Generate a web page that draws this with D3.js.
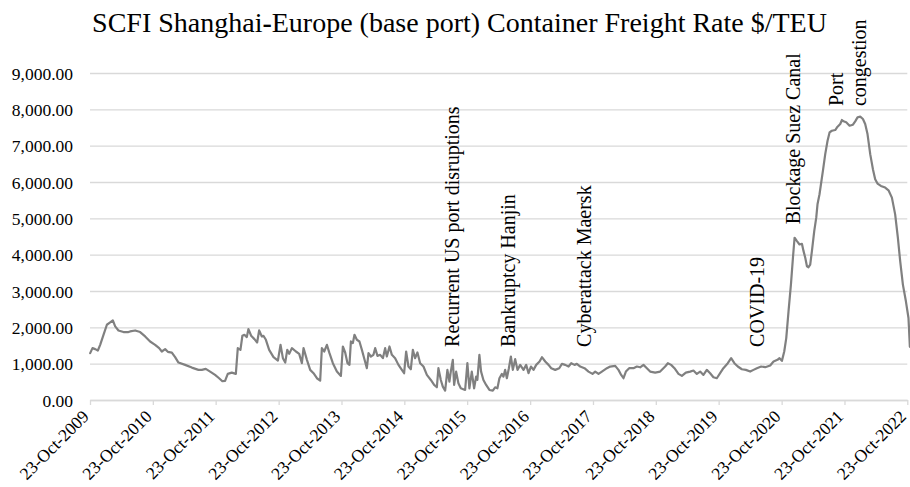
<!DOCTYPE html>
<html>
<head>
<meta charset="utf-8">
<script src="https://cdn.jsdelivr.net/npm/d3@7"></script>
<style>
  html, body { margin: 0; padding: 0; background: #ffffff; }
  svg { display: block; }
  svg text { font-family: "Liberation Serif", "Times New Roman", Times, serif; }
</style>
</head>
<body>
<svg id="chart" width="910" height="487"></svg>
<script>
// ---------------- DATA ----------------
const chartTitle = "SCFI Shanghai-Europe (base port) Container Freight Rate $/TEU";

const xTickLabels = ["23-Oct-2009","23-Oct-2010","23-Oct-2011","23-Oct-2012","23-Oct-2013","23-Oct-2014",
  "23-Oct-2015","23-Oct-2016","23-Oct-2017","23-Oct-2018","23-Oct-2019","23-Oct-2020","23-Oct-2021","23-Oct-2022"];

const yTickValues = [0, 1000, 2000, 3000, 4000, 5000, 6000, 7000, 8000, 9000];

// [date as decimal year, rate in $/TEU]
const freightRate = [
  [2009.811,1290],[2009.848,1427],[2009.891,1400],[2009.933,1362],[2009.970,1519],[2010.023,1795],
  [2010.077,2071],[2010.129,2135],[2010.172,2190],[2010.209,2025],[2010.261,1914],[2010.341,1870],
  [2010.420,1870],[2010.447,1888],[2010.527,1914],[2010.606,1870],[2010.686,1749],[2010.765,1610],
  [2010.845,1519],[2010.909,1427],[2010.951,1335],[2011.004,1400],[2011.047,1326],[2011.111,1306],
  [2011.163,1179],[2011.216,1030],[2011.322,967],[2011.429,892],[2011.534,829],[2011.588,829],
  [2011.651,856],[2011.720,782],[2011.799,690],[2011.863,599],[2011.915,516],[2011.958,525],
  [2012.001,718],[2012.065,754],[2012.129,718],[2012.160,1427],[2012.202,1381],[2012.233,1768],
  [2012.265,1795],[2012.303,1731],[2012.329,1952],[2012.372,1768],[2012.424,1676],[2012.467,1583],
  [2012.499,1914],[2012.542,1749],[2012.567,1768],[2012.606,1657],[2012.658,1381],[2012.727,1179],
  [2012.797,1086],[2012.838,1519],[2012.876,1151],[2012.913,1030],[2012.945,1381],[2012.976,1270],
  [2013.019,1427],[2013.083,1335],[2013.135,1270],[2013.178,1013],[2013.204,1427],[2013.258,1105],
  [2013.310,829],[2013.363,737],[2013.417,599],[2013.469,534],[2013.496,1427],[2013.533,1335],
  [2013.576,1519],[2013.617,1289],[2013.671,1013],[2013.735,782],[2013.799,663],[2013.830,1473],
  [2013.867,1307],[2013.904,1013],[2013.935,967],[2013.958,1611],[2013.989,1565],[2014.015,1795],
  [2014.053,1657],[2014.094,1611],[2014.133,1381],[2014.169,1151],[2014.212,875],[2014.238,1289],
  [2014.276,1197],[2014.317,1243],[2014.344,1427],[2014.381,1215],[2014.424,1243],[2014.467,1151],
  [2014.503,1427],[2014.530,1197],[2014.572,1473],[2014.610,1243],[2014.662,1151],[2014.715,967],
  [2014.769,829],[2014.805,737],[2014.837,1335],[2014.874,921],[2014.912,847],[2014.944,1381],
  [2014.980,1151],[2015.017,1307],[2015.060,1013],[2015.113,921],[2015.167,690],[2015.230,552],
  [2015.283,414],[2015.326,350],[2015.351,875],[2015.389,552],[2015.421,368],[2015.458,258],
  [2015.494,829],[2015.526,506],[2015.548,782],[2015.580,1105],[2015.601,414],[2015.633,782],
  [2015.669,460],[2015.707,322],[2015.776,276],[2015.812,1013],[2015.844,322],[2015.882,782],
  [2015.919,322],[2015.951,644],[2015.971,552],[2016.003,1243],[2016.030,782],[2016.067,552],
  [2016.110,414],[2016.162,276],[2016.216,258],[2016.253,350],[2016.289,322],[2016.321,599],
  [2016.359,718],[2016.385,644],[2016.412,829],[2016.439,599],[2016.471,875],[2016.503,1197],
  [2016.534,829],[2016.571,1124],[2016.608,829],[2016.651,967],[2016.703,829],[2016.746,967],
  [2016.783,737],[2016.821,921],[2016.862,829],[2016.905,967],[2016.958,1059],[2016.996,1179],
  [2017.048,1059],[2017.101,967],[2017.144,875],[2017.207,829],[2017.271,875],[2017.314,994],
  [2017.366,967],[2017.419,921],[2017.462,1013],[2017.514,967],[2017.552,994],[2017.605,921],
  [2017.673,875],[2017.737,782],[2017.801,718],[2017.844,782],[2017.896,718],[2017.950,782],
  [2018.030,875],[2018.082,921],[2018.162,939],[2018.214,829],[2018.257,690],[2018.294,599],
  [2018.332,782],[2018.384,875],[2018.453,875],[2018.507,921],[2018.559,900],[2018.612,967],
  [2018.666,875],[2018.718,782],[2018.798,754],[2018.877,782],[2018.957,921],[2019.000,1013],
  [2019.052,967],[2019.105,875],[2019.169,718],[2019.223,663],[2019.286,754],[2019.355,782],
  [2019.407,810],[2019.461,718],[2019.514,782],[2019.566,690],[2019.620,829],[2019.673,737],
  [2019.725,626],[2019.779,599],[2019.832,737],[2019.884,875],[2019.954,1013],[2020.007,1151],
  [2020.059,1013],[2020.113,921],[2020.177,847],[2020.241,829],[2020.309,782],[2020.362,829],
  [2020.416,875],[2020.484,921],[2020.548,903],[2020.627,948],[2020.680,1059],[2020.743,1105],
  [2020.775,1151],[2020.813,1077],[2020.850,1335],[2020.882,1703],[2020.918,2440],[2020.956,3176],
  [2020.988,3913],[2021.014,4466],[2021.052,4373],[2021.093,4281],[2021.131,4300],[2021.157,4097],
  [2021.184,3913],[2021.211,3682],[2021.236,3654],[2021.263,3728],[2021.290,4097],[2021.327,4649],
  [2021.359,5018],[2021.379,5386],[2021.411,5662],[2021.434,5938],[2021.465,6306],[2021.502,6767],
  [2021.539,7135],[2021.571,7365],[2021.608,7411],[2021.661,7430],[2021.698,7522],[2021.741,7596],
  [2021.768,7706],[2021.793,7670],[2021.836,7642],[2021.889,7549],[2021.943,7577],[2021.979,7670],
  [2022.016,7780],[2022.059,7798],[2022.102,7734],[2022.138,7596],[2022.175,7319],[2022.218,6767],
  [2022.261,6353],[2022.297,6076],[2022.334,5957],[2022.388,5892],[2022.456,5846],[2022.509,5772],
  [2022.563,5570],[2022.615,5110],[2022.658,4466],[2022.695,3820],[2022.738,3176],[2022.786,2716],
  [2022.827,2256],[2022.849,1464]
];

// event annotations: text lines, date (decimal year), value where the text starts
const annotationLabels = [["Recurrent US port disruptions"], ["Bankruptcy Hanjin"], ["Cyberattack Maersk"],
  ["COVID-19"], ["Blockage Suez Canal"], ["Port", "congestion"]];
const annotationDates = [2015.672, 2016.571, 2017.780, 2020.532, 2021.104, 2021.792];
const annotationValues = [1460, 1460, 1460, 1460, 4835, 8091];

// ---------------- CHART ----------------
const fontFam = '"Liberation Serif", "Times New Roman", Times, serif';
const svg = d3.select("#chart").attr("font-family", fontFam);
svg.append("rect").attr("width", 910).attr("height", 487).attr("fill", "#ffffff");

const parseTick = d3.utcParse("%d-%b-%Y");
const tickDates = xTickLabels.map(parseTick);
function decYearToDate(t) {
  const yr = Math.floor(t);
  const a = Date.UTC(yr, 0, 1), b = Date.UTC(yr + 1, 0, 1);
  return new Date(a + (t - yr) * (b - a));
}

const plotLeft = 90, plotRight = 907.3, plotTop = 73, plotBottom = 400;
const x = d3.scaleUtc().domain([tickDates[0], tickDates[tickDates.length - 1]]).range([plotLeft, plotRight]);
const y = d3.scaleLinear().domain([0, 9000]).range([plotBottom, plotTop]);

const gridColor = "#d9d9d9";
const tickFont = 17.5;

// y axis with gridlines
const yAxis = d3.axisLeft(y).tickValues(yTickValues).tickSize(-(plotRight - plotLeft)).tickPadding(17)
  .tickFormat(d3.format(",.2f"));
const gy = svg.append("g").attr("transform", `translate(${plotLeft},0)`).call(yAxis)
  .attr("font-family", fontFam).attr("font-size", tickFont);
gy.select(".domain").remove();
gy.selectAll(".tick line").attr("stroke", gridColor).attr("stroke-width", 1.3);
gy.selectAll(".tick text").attr("fill", "#000").attr("font-family", fontFam)
  .attr("font-size", tickFont).attr("dy", "0.36em");

// x axis
const xAxis = d3.axisBottom(x).tickValues(tickDates).tickSize(5).tickSizeOuter(0)
  .tickFormat((d, i) => xTickLabels[i]);
const gx = svg.append("g").attr("transform", `translate(0,${plotBottom})`).call(xAxis)
  .attr("font-family", fontFam).attr("font-size", tickFont);
gx.select(".domain").attr("stroke", gridColor).attr("stroke-width", 1.3);
gx.selectAll(".tick line").attr("stroke", gridColor).attr("stroke-width", 1.3);
gx.selectAll(".tick text").attr("fill", "#000").attr("font-family", fontFam).attr("font-size", tickFont)
  .attr("x", 0).attr("y", 0).attr("dy", 0)
  .attr("transform", "translate(-0.5,17.5) rotate(-45)").style("text-anchor", "end");

// line
const line = d3.line().x(d => x(decYearToDate(d[0]))).y(d => y(d[1]));
svg.append("path").datum(freightRate).attr("d", line)
  .attr("fill", "none").attr("stroke", "#808080").attr("stroke-width", 2.2)
  .attr("stroke-linejoin", "round").attr("stroke-linecap", "round");

// annotations
annotationLabels.forEach((lines, i) => {
  const t = svg.append("text")
    .attr("transform", `translate(${x(decYearToDate(annotationDates[i]))},${y(annotationValues[i])}) rotate(-90)`)
    .attr("text-anchor", "start").attr("fill", "#000")
    .attr("font-family", fontFam).attr("font-size", 20);
  lines.forEach((s, j) => {
    t.append("tspan").attr("x", 0).attr("dy", j === 0 ? 0 : "1.15em").text(s);
  });
});

// title
const title = svg.append("text").attr("x", 459.5).attr("y", 32).attr("text-anchor", "middle")
  .attr("fill", "#000").attr("font-family", fontFam).attr("font-size", 28);
const parts = chartTitle.split("Shanghai-");
title.append("tspan").text(parts[0] + "Shanghai");
title.append("tspan").attr("font-weight", "bold").text("-");
title.append("tspan").text(parts[1]);
</script>
</body>
</html>
